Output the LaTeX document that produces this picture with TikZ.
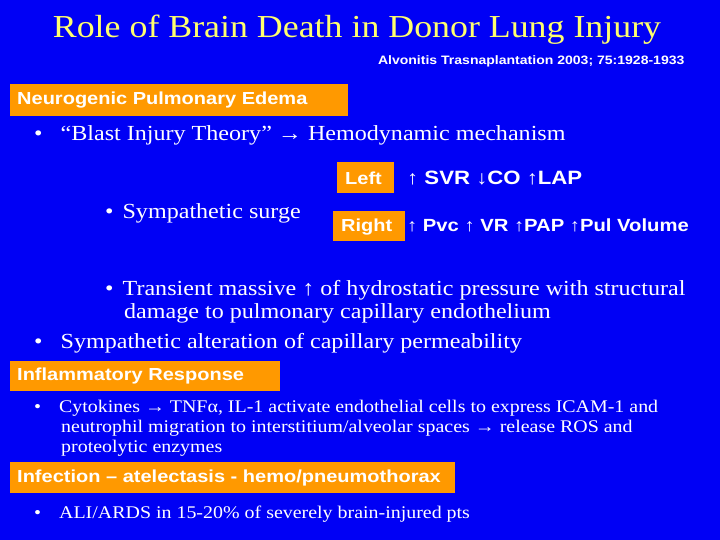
\documentclass[tikz,border=0pt]{standalone}
\usepackage{fontspec}
\setmainfont{Liberation Serif}[FakeStretch=1.12]
\newfontfamily\sansb{Liberation Sans}[UprightFont=* Bold,FakeStretch=1.15]
\definecolor{bg}{RGB}{0,0,245}
\definecolor{org}{RGB}{255,153,0}
\definecolor{ttl}{RGB}{255,255,110}
\begin{document}
\begin{tikzpicture}[x=1pt,y=-1pt,
  box/.style={fill=org,inner sep=0pt,anchor=north west},
  btxt/.style={text=white,font=\sansb\fontsize{17.4}{19}\selectfont,anchor=west,inner sep=0pt},
  big/.style={text=white,font=\fontsize{21.5}{23}\selectfont,anchor=west,inner sep=0pt},
  sm/.style={text=white,font=\fontsize{17.8}{20}\selectfont,anchor=north west,inner sep=0pt,align=left}]
\fill[bg] (0,0) rectangle (720,540);
\useasboundingbox (0,0) rectangle (720,540);
\node[text=ttl,font=\fontsize{32}{34}\selectfont] (title) at (357,30) {Role of Brain Death in Donor Lung Injury};
\node[text=white,font=\sansb\fontsize{12.2}{13}\selectfont,anchor=east] (cite) at (688,61) {Alvonitis Trasnaplantation 2003; 75:1928-1933};
\node[box,minimum width=338pt,minimum height=32pt] (b1) at (10,84) {};
\node[btxt] (t1) at (17,100) {Neurogenic Pulmonary Edema};
\node[big] (l1) at (34,135) {•\hspace{18pt}“Blast Injury Theory” → Hemodynamic mechanism};
\node[box,minimum width=57pt,minimum height=31pt] (bl) at (337,162) {};
\node[btxt] (tl) at (345,178) {Left};
\node[text=white,font=\sansb\fontsize{19.3}{21}\selectfont,anchor=west,inner sep=0pt] (lv) at (407,178) {↑ SVR ↓CO ↑LAP};
\node[big] (l2) at (105,213) {•\hspace{9pt}Sympathetic surge};
\node[box,minimum width=72pt,minimum height=30pt] (br) at (333,211) {};
\node[btxt] (tr) at (341,227) {Right};
\node[text=white,font=\sansb\fontsize{17.6}{19}\selectfont,anchor=west,inner sep=0pt] (rv) at (407,225) {↑ Pvc ↑ VR ↑PAP ↑Pul Volume};
\node[big,anchor=north west,align=left] (l3) at (105,280) {•\hspace{9pt}Transient massive ↑ of hydrostatic pressure with structural\\\hspace{19pt}damage to pulmonary capillary endothelium};
\node[big] (l4) at (34,343) {•\hspace{18pt}Sympathetic alteration of capillary permeability};
\node[box,minimum width=270pt,minimum height=30pt] (b2) at (10,361) {};
\node[btxt] (t2) at (17,376) {Inflammatory Response};
\node[sm] (l5) at (34,400) {•\hspace{18pt}Cytokines → TNFα, IL-1 activate endothelial cells to express ICAM-1 and\\\hspace{27pt}neutrophil migration to interstitium/alveolar spaces → release ROS and\\\hspace{27pt}proteolytic enzymes};
\node[box,minimum width=445pt,minimum height=31pt] (b3) at (10,462) {};
\node[btxt] (t3) at (17,478) {Infection – atelectasis - hemo/pneumothorax};
\node[sm,anchor=west] (l6) at (34,514) {•\hspace{18pt}ALI/ARDS in 15-20\% of severely brain-injured pts};
\end{tikzpicture}
\end{document}
